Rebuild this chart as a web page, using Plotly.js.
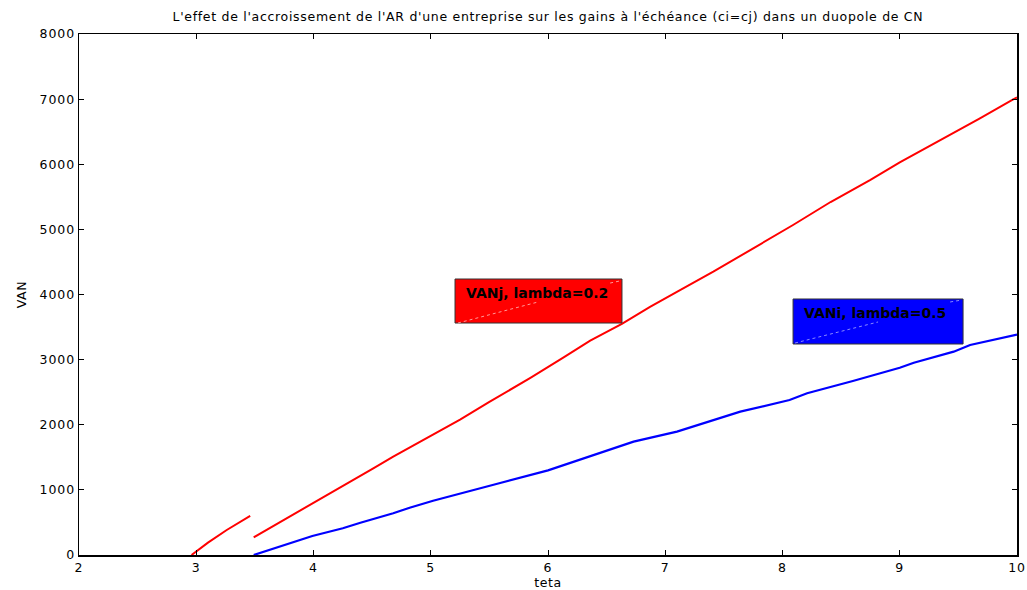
<!DOCTYPE html>
<html>
<head>
<meta charset="utf-8">
<script src="https://cdn.plot.ly/plotly-3.0.1.min.js"></script>
<style>
html,body{margin:0;padding:0;background:#fff;}
#chart{width:1027px;height:590px;}
#chart .gtitle{letter-spacing:0.7px;}
#chart .xtick text,#chart .ytick text{letter-spacing:0.9px;}
#chart .xtitle,#chart .ytitle{letter-spacing:0.6px;}
</style>
</head>
<body>
<div id="chart"></div>
<script>
// VANj (lambda=0.2), first branch
const tetaJ1 = [2.96, 3.1, 3.26, 3.46];
const vanJ1 = [0, 190, 384, 600];
// VANj (lambda=0.2), second branch
const tetaJ2 = [3.49, 3.8, 3.99, 4.2, 4.51, 4.68, 5.02, 5.25, 5.5, 5.85, 6.13, 6.36, 6.63, 6.87, 7.13, 7.41, 7.78, 8.09, 8.41, 8.75, 9.0, 9.4, 9.68, 9.96, 10.0];
const vanJ2 = [272, 590, 790, 1000, 1330, 1510, 1843, 2080, 2350, 2720, 3030, 3290, 3550, 3810, 4070, 4350, 4740, 5067, 5420, 5760, 6030, 6420, 6700, 6990, 7025];
// VANi (lambda=0.5)
const tetaI = [3.49, 3.8, 3.99, 4.25, 4.4, 4.68, 4.82, 5.02, 5.25, 5.6, 6.0, 6.27, 6.44, 6.73, 7.1, 7.64, 8.06, 8.21, 8.6, 9.0, 9.12, 9.46, 9.6, 9.97, 10.0];
const vanI = [0, 179, 292, 410, 496, 640, 726, 834, 947, 1110, 1300, 1459, 1561, 1740, 1894, 2201, 2380, 2483, 2672, 2876, 2953, 3122, 3225, 3378, 3385];

const xTicks = [2, 3, 4, 5, 6, 7, 8, 9, 10];
const yTicks = [0, 1000, 2000, 3000, 4000, 5000, 6000, 7000, 8000];
const labelJ = "VANj, lambda=0.2";
const labelI = "VANi, lambda=0.5";
const titleText = "L'effet de l'accroissement de l'AR d'une entreprise sur les gains à l'échéance (ci=cj) dans un duopole de CN";

const FONT = "DejaVu Sans, Liberation Sans, Arial, sans-serif";

const traces = [
  {x: tetaJ1, y: vanJ1, mode: 'lines', line: {color: '#ff0000', width: 2}, hoverinfo: 'none'},
  {x: tetaJ2, y: vanJ2, mode: 'lines', line: {color: '#ff0000', width: 2}, hoverinfo: 'none'},
  {x: tetaI, y: vanI, mode: 'lines', line: {color: '#0000ff', width: 2.2}, hoverinfo: 'none'}
];

const axisCommon = {
  showgrid: false, zeroline: false, showline: true, linecolor: '#000', linewidth: 1.5,
  mirror: 'ticks', ticks: 'inside', ticklen: 5, tickcolor: '#000', tickwidth: 1,
  tickfont: {family: FONT, size: 12.5, color: '#000'}
};

const layout = {
  width: 1027, height: 590,
  margin: {l: 79, r: 10, t: 34, b: 35},
  paper_bgcolor: '#fff', plot_bgcolor: '#fff',
  showlegend: false,
  title: {text: titleText, font: {family: FONT, size: 12.5, color: '#000'}, x: 0.5335, xanchor: 'center', y: 0.972, yanchor: 'middle'},
  xaxis: Object.assign({}, axisCommon, {
    range: [2, 10], tickvals: xTicks, ticktext: xTicks.map(String),
    title: {text: 'teta', font: {family: FONT, size: 12.5, color: '#000'}, standoff: 3}
  }),
  yaxis: Object.assign({}, axisCommon, {
    range: [0, 8000], tickvals: yTicks, ticktext: yTicks.map(String),
    title: {text: 'VAN', font: {family: FONT, size: 12.5, color: '#000'}, standoff: 14}
  }),
  shapes: [
    {type: 'rect', xref: 'x', yref: 'y', x0: 5.207, x1: 6.631, y0: 3562, y1: 4238, fillcolor: '#ff0000', line: {color: '#333', width: 1}},
    {type: 'line', xref: 'x', yref: 'y', x0: 5.232, y0: 3562, x1: 5.915, y1: 3885, line: {color: '#ff9a9a', width: 1, dash: 'dot'}},
    {type: 'line', xref: 'x', yref: 'y', x0: 6.53, y0: 4176, x1: 6.61, y1: 4207, line: {color: '#ff9a9a', width: 1, dash: 'dot'}},
    {type: 'rect', xref: 'x', yref: 'y', x0: 8.09, x1: 9.54, y0: 3240, y1: 3931, fillcolor: '#0000ff', line: {color: '#333', width: 1}},
    {type: 'line', xref: 'x', yref: 'y', x0: 8.107, y0: 3255, x1: 8.815, y1: 3578, line: {color: '#8a8aff', width: 1, dash: 'dot'}},
    {type: 'line', xref: 'x', yref: 'y', x0: 9.43, y0: 3885, x1: 9.53, y1: 3916, line: {color: '#8a8aff', width: 1, dash: 'dot'}}
  ],
  annotations: [
    {xref: 'x', yref: 'y', x: 5.285, y: 4030, xanchor: 'left', yanchor: 'middle', showarrow: false, text: '<b>' + labelJ + '</b>', font: {family: FONT, size: 14, color: '#000'}},
    {xref: 'x', yref: 'y', x: 8.17, y: 3720, xanchor: 'left', yanchor: 'middle', showarrow: false, text: '<b>' + labelI + '</b>', font: {family: FONT, size: 14, color: '#000'}}
  ]
};

Plotly.newPlot('chart', traces, layout, {displayModeBar: false, staticPlot: true});
</script>
</body>
</html>
